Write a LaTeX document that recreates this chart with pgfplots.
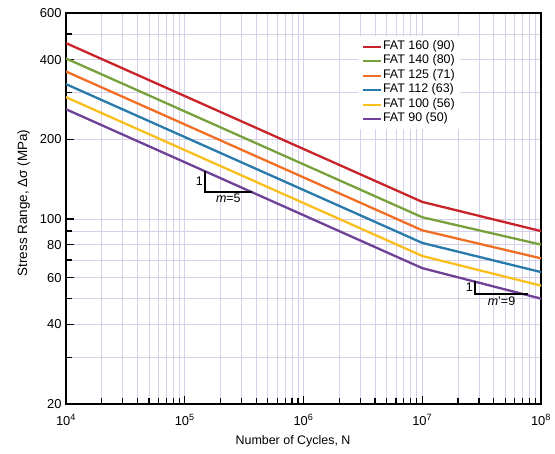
\documentclass[border=0pt]{standalone}
\usepackage{fontspec}
\setmainfont{Liberation Sans}
\usepackage{pgfplots}
\pgfplotsset{compat=1.18}

\definecolor{fat160}{RGB}{200,35,40}
\definecolor{fat140}{RGB}{120,160,60}
\definecolor{fat125}{RGB}{240,110,35}
\definecolor{fat112}{RGB}{40,122,170}
\definecolor{fat100}{RGB}{250,190,30}
\definecolor{fat90}{RGB}{110,65,150}
\definecolor{gridc}{RGB}{214,208,234}

\begin{document}
\begin{tikzpicture}
\useasboundingbox (-66bp,-50bp) rectangle (489bp,404bp);
\begin{axis}[
  scale only axis,
  width=475bp, height=391bp,
  xmode=log, ymode=log,
  xmin=1e4, xmax=1e8, ymin=20, ymax=600,
  xtick={1e4,1e5,1e6,1e7,1e8},
  xticklabels={10\textsuperscript{4},10\textsuperscript{5},10\textsuperscript{6},10\textsuperscript{7},10\textsuperscript{8}},
  minor xtick={2e4,3e4,4e4,5e4,6e4,7e4,8e4,9e4,
               2e5,3e5,4e5,5e5,6e5,7e5,8e5,9e5,
               2e6,3e6,4e6,5e6,6e6,7e6,8e6,9e6,
               2e7,3e7,4e7,5e7,6e7,7e7,8e7,9e7},
  ytick={20,40,60,80,100,200,400,600},
  yticklabels={20,40,60,80,100,200,400,600},
  minor ytick={30,50,70,90,300,500},
  grid=both,
  major grid style={gridc, line width=0.75bp},
  minor grid style={gridc, line width=0.75bp},
  tick pos=left,
  tick align=inside,
  major tick length=8bp,
  minor tick length=6bp,
  every tick/.style={black, line width=1.2bp},
  axis line style={black, line width=1.6bp},
  ticklabel style={font=\fontsize{13}{15}\selectfont},
  yticklabel style={xshift=-1bp},
  xticklabel style={yshift=-7bp},
  xlabel={Number of Cycles, N},
  ylabel={Stress Range, Δσ (MPa)},
  xlabel style={font=\fontsize{12.5}{14}\selectfont, at={(ticklabel cs:0.478)}, anchor=north, yshift=-3bp},
  ylabel style={font=\fontsize{13.5}{15}\selectfont, at={(ticklabel cs:0.514)}, anchor=south, yshift=3bp},
  legend style={
    at={(axis cs:2.85e6,490)}, anchor=north west,
    draw=none, fill=white,
    font=\fontsize{12.5}{14}\selectfont,
    nodes={inner sep=1bp, text height=9bp, text depth=3.5bp},
    inner xsep=4bp, inner ysep=3bp,
  },
  legend cell align=left,
  legend image code/.code={\draw[#1] (0bp,0bp) -- (18bp,0bp);},
  every axis plot/.append style={line width=2.3bp},
]
% S-N curves: slope m=5 up to 1e7 cycles, m'=9 beyond
\addplot[fat160] coordinates {(1e4,461.7) (1e7,116.0) (1e8,90)};
\addlegendentry{FAT 160 (90)}
\addplot[fat140] coordinates {(1e4,404.0) (1e7,101.5) (1e8,80)};
\addlegendentry{FAT 140 (80)}
\addplot[fat125] coordinates {(1e4,360.7) (1e7,90.6) (1e8,71)};
\addlegendentry{FAT 125 (71)}
\addplot[fat112] coordinates {(1e4,323.2) (1e7,81.2) (1e8,63)};
\addlegendentry{FAT 112 (63)}
\addplot[fat100] coordinates {(1e4,288.5) (1e7,72.5) (1e8,56)};
\addlegendentry{FAT 100 (56)}
\addplot[fat90] coordinates {(1e4,259.7) (1e7,65.2) (1e8,50)};
\addlegendentry{FAT 90 (50)}

% slope triangles
\addplot[black, line width=1.4bp, forget plot] coordinates {(1.48e5,151.5) (1.48e5,126.3) (3.68e5,126.3)};
\addplot[black, line width=1.4bp, forget plot] coordinates {(2.78e7,58.2) (2.78e7,52.0) (7.77e7,52.0)};
\node[anchor=east, font=\fontsize{12.5}{14}\selectfont, inner sep=2bp] at (axis cs:1.48e5,139) {1};
\node[anchor=north, font=\fontsize{12.5}{14}\selectfont, inner sep=2bp] at (axis cs:2.33e5,126.3) {\textit{m}=5};
\node[anchor=east, font=\fontsize{12.5}{14}\selectfont, inner sep=2bp] at (axis cs:2.78e7,55) {1};
\node[anchor=north, font=\fontsize{12.5}{14}\selectfont, inner sep=2bp] at (axis cs:4.65e7,52) {\textit{m}'=9};
\end{axis}
\end{tikzpicture}
\end{document}
